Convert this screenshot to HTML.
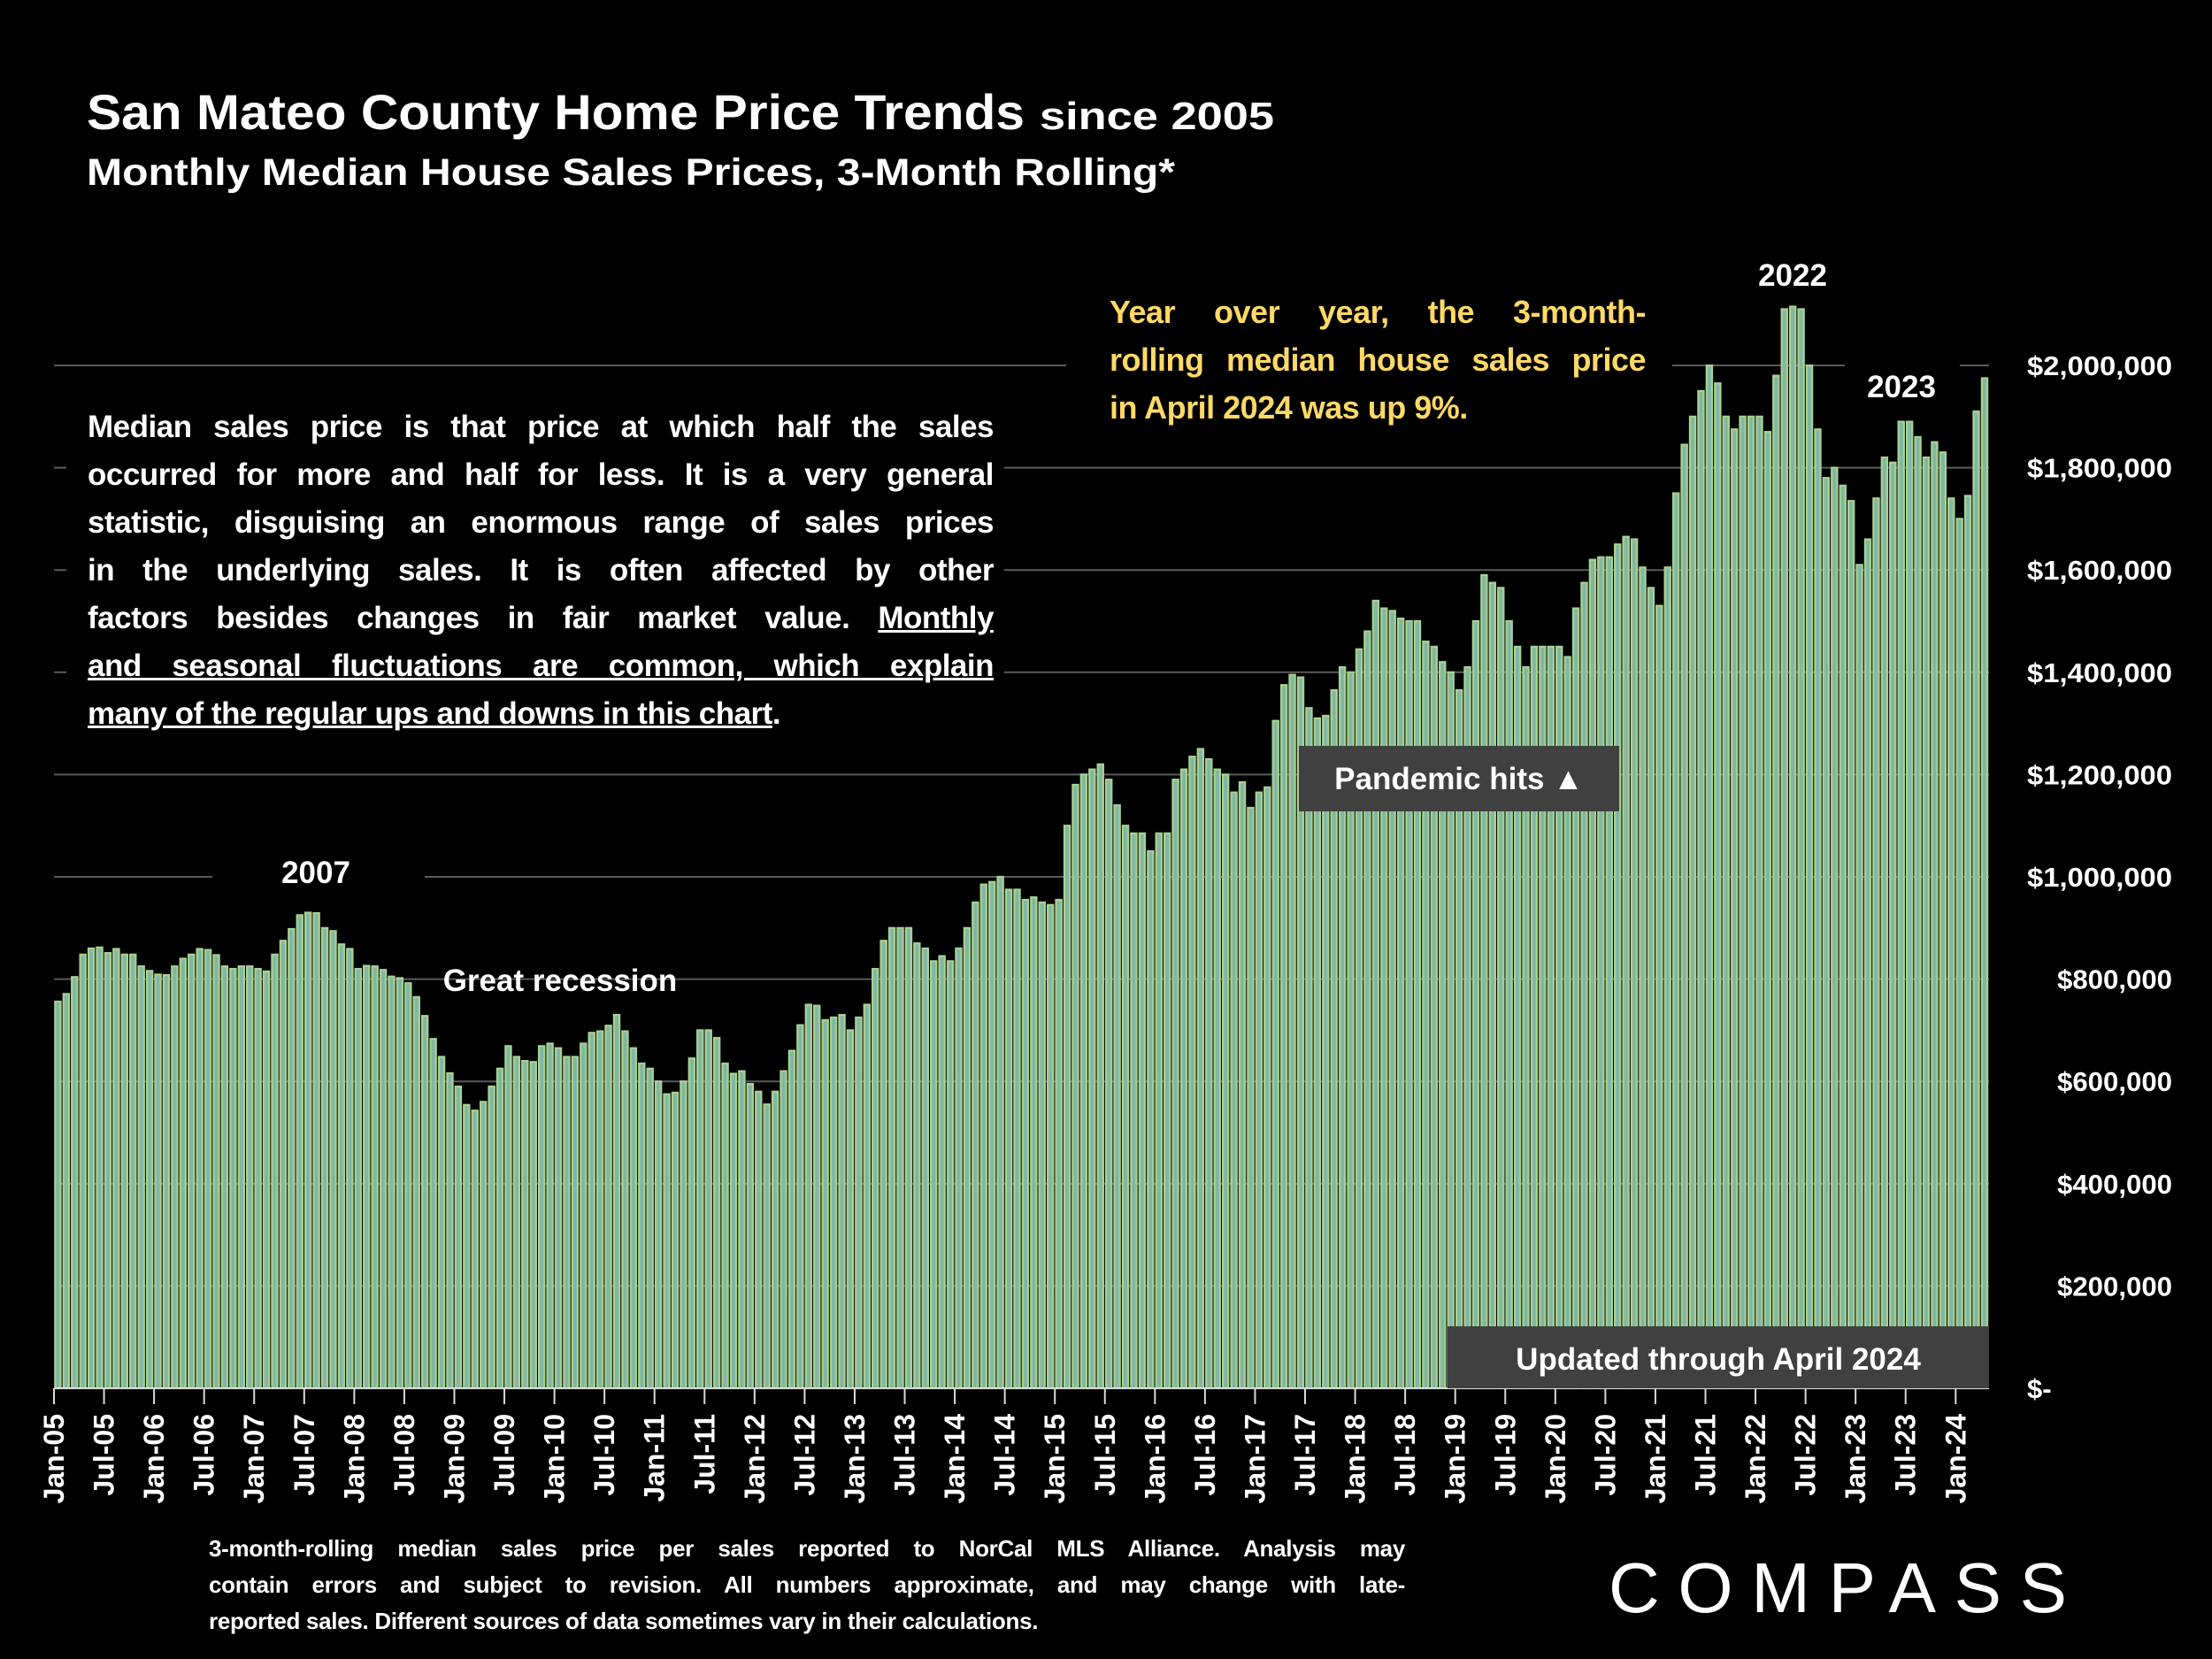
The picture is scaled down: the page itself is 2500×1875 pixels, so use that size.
<!DOCTYPE html>
<html><head><meta charset="utf-8"><style>
html,body{margin:0;padding:0;background:#000;}
body{width:2500px;height:1875px;overflow:hidden;position:relative;font-family:"Liberation Sans",sans-serif;}
svg{position:absolute;left:0;top:0;z-index:1;}
.t{font-family:"Liberation Sans",sans-serif;font-weight:bold;fill:#fff;}
.p{position:absolute;color:#fff;font-weight:bold;z-index:2;}
.p div{text-align:justify;text-align-last:justify;white-space:nowrap;}
.p div.l{text-align-last:left;}
</style></head><body>
<svg id="s" width="2500" height="1875" viewBox="0 0 2500 1875"></svg>
<div class="p" style="left:99px;top:452px;width:1024px;font-size:35px;line-height:54px;padding:4px 0;letter-spacing:-0.5px;">
<div>Median sales price is that price at which half the sales</div>
<div>occurred for more and half for less. It is a very general</div>
<div>statistic, disguising an enormous range of sales prices</div>
<div>in the underlying sales. It is often affected by other</div>
<div>factors besides changes in fair market value. <u>Monthly</u></div>
<div><u>and seasonal fluctuations are common, which explain</u></div>
<div class="l"><u>many of the regular ups and downs in this chart</u>.</div>
</div>
<div class="p" style="left:1254px;top:326px;width:606px;font-size:36px;line-height:54px;color:#ffd966;letter-spacing:-0.5px;">
<div>Year over year, the 3-month-</div>
<div>rolling median house sales price</div>
<div class="l">in April 2024 was up 9%.</div>
</div>
<div class="p" style="left:236px;top:1730px;width:1352px;font-size:26px;line-height:41px;letter-spacing:-0.3px;">
<div>3-month-rolling median sales price per sales reported to NorCal MLS Alliance. Analysis may</div>
<div>contain errors and subject to revision. All numbers approximate, and may change with late-</div>
<div class="l">reported sales. Different sources of data sometimes vary in their calculations.</div>
</div>
<script>
var d=[756,771,804,848,860,862,851,859,848,848,825,816,
809,808,825,840,848,859,857,847,825,820,825,825,
820,815,848,875,898,925,930,929,900,894,868,859,
820,826,825,818,805,802,792,765,728,683,648,616,
590,554,543,560,590,625,669,648,640,638,669,674,
665,648,648,674,695,698,709,730,698,665,635,625,
600,575,578,600,645,700,700,685,635,615,620,595,
580,555,580,620,660,710,750,748,720,725,730,700,
725,750,820,875,900,900,900,870,860,835,845,835,
860,900,950,985,990,1000,975,975,955,960,950,945,
955,1100,1180,1200,1210,1220,1190,1140,1100,1085,1085,1050,
1085,1085,1190,1210,1235,1250,1230,1210,1200,1165,1185,1135,
1165,1175,1305,1375,1395,1390,1330,1310,1315,1365,1410,1400,
1445,1480,1540,1525,1520,1505,1500,1500,1460,1450,1420,1400,
1365,1410,1500,1590,1575,1565,1500,1450,1410,1450,1450,1450,1450,
1430,1525,1575,1620,1625,1625,1650,1665,1660,1605,1565,1530,1605,1750,1845,1900,1950,2000,1965,1900,1875,1900,1900,1900,1870,1980,2110,2115,2110,2000,1875,1780,1800,1765,1735,1610,1660,1740,1820,1810,1890,1890,1860,1820,1850,1830,1740,1700,1745,1910,1975];
var x0=61,x1=2248,y0=1569,k=1156/2000,n=d.length,pw=(x1-x0)/n,h='';
for(var g=1;g<=10;g++){var y=y0-g*200*k;h+='<line x1="'+x0+'" x2="'+x1+'" y1="'+y+'" y2="'+y+'" stroke="#5a5a5a" stroke-width="2"/>';}
h+='<rect x="75" y="445" width="1060" height="400" fill="#000"/><rect x="1205" y="318" width="685" height="172" fill="#000"/>';
for(var i=0;i<n;i++){var bh=d[i]*k,bx=x0+i*pw+1.3;h+='<rect x="'+bx+'" y="'+(y0-bh)+'" width="'+(pw-3.2)+'" height="'+bh+'" fill="#80b7a6" stroke="#a9d18e" stroke-width="2.2"/>';}
h+='<line x1="'+x0+'" x2="'+x1+'" y1="'+y0+'" y2="'+y0+'" stroke="#d9d9d9" stroke-width="2"/>';
var yrs=['05','06','07','08','09','10','11','12','13','14','15','16','17','18','19','20','21','22','23','24'];
for(var j=0;j<39;j++){var tx=x0+j*6*pw;var lab=(j%2?'Jul-':'Jan-')+yrs[Math.floor(j/2)];
h+='<line x1="'+tx+'" x2="'+tx+'" y1="'+y0+'" y2="'+(y0+18)+'" stroke="#d9d9d9" stroke-width="2"/>';
h+='<text class="t" font-size="32" text-anchor="end" transform="translate('+(tx+11)+',1598) rotate(-90)">'+lab+'</text>';}
var labs=['$-','$200,000','$400,000','$600,000','$800,000','$1,000,000','$1,200,000','$1,400,000','$1,600,000','$1,800,000','$2,000,000'];
for(var g=0;g<=10;g++){var y=y0-g*200*k+11;if(g==0)h+='<text class="t" font-size="31" x="2291" y="'+y+'">$-</text>';else{var w=labs[g].length>9?164:(labs[g].length>8?146:130);h+='<text class="t" font-size="31" x="'+(2455-w)+'" y="'+y+'" textLength="'+w+'" lengthAdjust="spacingAndGlyphs">'+labs[g]+'</text>';}}
h+='<rect x="240" y="955" width="240" height="60" fill="#000"/><rect x="1960" y="280" width="135" height="60" fill="#000"/><rect x="2085" y="405" width="130" height="60" fill="#000"/>';
h+='<text class="t" font-size="35" x="357" y="998" text-anchor="middle">2007</text>';
h+='<text class="t" font-size="35" x="633" y="1120" text-anchor="middle">Great recession</text>';
h+='<text class="t" font-size="35" x="2026" y="323" text-anchor="middle">2022</text>';
h+='<text class="t" font-size="35" x="2149" y="449" text-anchor="middle">2023</text>';
h+='<rect x="1468" y="843" width="362" height="74" fill="#404040"/><text class="t" font-size="35" x="1649" y="892" text-anchor="middle">Pandemic hits ▲</text>';
h+='<rect x="1636" y="1499" width="612" height="70" fill="#404040"/><text class="t" font-size="35" x="1942" y="1548" text-anchor="middle">Updated through April 2024</text>';
h+='<text class="t" font-size="56" x="98" y="146" textLength="1060" lengthAdjust="spacingAndGlyphs">San Mateo County Home Price Trends</text>';
h+='<text class="t" font-size="44" x="1175" y="146" textLength="265" lengthAdjust="spacingAndGlyphs">since 2005</text>';
h+='<text class="t" font-size="43" x="98" y="209" textLength="1230" lengthAdjust="spacingAndGlyphs">Monthly Median House Sales Prices, 3-Month Rolling*</text>';
h+='<text font-family="Liberation Sans,sans-serif" font-size="80" fill="#fff" x="1818" y="1822" textLength="518" lengthAdjust="spacing">COMPASS</text>';
document.getElementById('s').innerHTML=h;
</script>
</body></html>
